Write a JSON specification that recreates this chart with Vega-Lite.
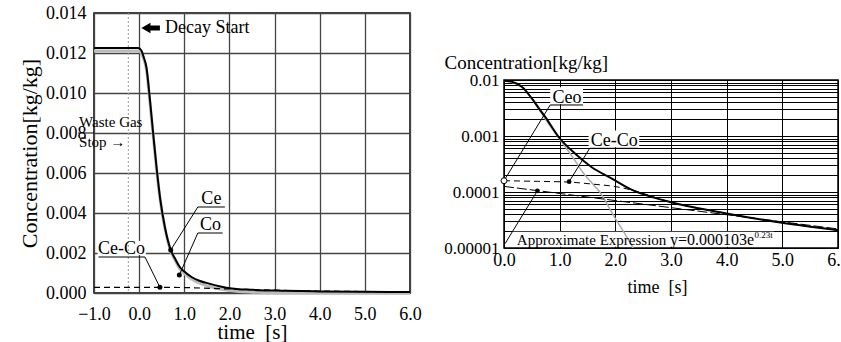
{
  "$schema": "https://vega.github.io/schema/vega-lite/v6.json",
  "background": "white",
  "padding": {"left": 17, "top": 3, "right": -4, "bottom": 0},
  "spacing": 21,
  "config": {
    "font": "Liberation Serif",
    "view": {"stroke": "black", "strokeWidth": 1.5},
    "axis": {"domain": false, "ticks": false, "labelColor": "black", "titleColor": "black", "labelFont": "Liberation Serif", "titleFont": "Liberation Serif", "titleFontWeight": "normal", "labelOverlap": false, "labelBound": false, "labelFlush": false, "tickCount": 40},
    "text": {"font": "Liberation Serif", "color": "black"}
  },
  "datasets": {
    "lCe": [
      {"t": -1.0, "v": 0.01225}, {"t": -0.02, "v": 0.01225}, {"t": 0.05, "v": 0.01212}, {"t": 0.1, "v": 0.0118},
      {"t": 0.16, "v": 0.0113}, {"t": 0.24, "v": 0.00965}, {"t": 0.31, "v": 0.008}, {"t": 0.385, "v": 0.0063},
      {"t": 0.47, "v": 0.00465}, {"t": 0.57, "v": 0.0033}, {"t": 0.7, "v": 0.00215}, {"t": 0.8, "v": 0.0017},
      {"t": 0.9, "v": 0.0013}, {"t": 1.0, "v": 0.00107}, {"t": 1.16, "v": 0.0008}, {"t": 1.35, "v": 0.0006},
      {"t": 1.53, "v": 0.00048}, {"t": 1.8, "v": 0.00033}, {"t": 2.05, "v": 0.00023}, {"t": 2.5, "v": 0.00016},
      {"t": 3.0, "v": 0.00012}, {"t": 4.0, "v": 0.00008}, {"t": 5.0, "v": 0.00006}, {"t": 6.0, "v": 0.00005}
    ],
    "lCo": [
      {"t": -1.0, "v": 0.0121}, {"t": -0.02, "v": 0.0121}, {"t": 0.05, "v": 0.012}, {"t": 0.1, "v": 0.0117},
      {"t": 0.16, "v": 0.0112}, {"t": 0.24, "v": 0.0095}, {"t": 0.31, "v": 0.0079}, {"t": 0.385, "v": 0.0062},
      {"t": 0.47, "v": 0.0046}, {"t": 0.57, "v": 0.00325}, {"t": 0.7, "v": 0.0021}, {"t": 0.8, "v": 0.00163},
      {"t": 0.9, "v": 0.00122}, {"t": 1.0, "v": 0.00098}, {"t": 1.16, "v": 0.0007}, {"t": 1.35, "v": 0.00048},
      {"t": 1.53, "v": 0.00035}, {"t": 1.8, "v": 0.0002}, {"t": 2.05, "v": 0.00011}, {"t": 2.5, "v": 0.00004},
      {"t": 3.0, "v": 0.00001}, {"t": 6.0, "v": 0.0}
    ],
    "lCeCo": [
      {"t": -1.0, "v": 0.000285}, {"t": 0.5, "v": 0.000285}, {"t": 1.2, "v": 0.00026}, {"t": 2.0, "v": 0.0002},
      {"t": 3.0, "v": 0.00014}, {"t": 4.0, "v": 0.0001}, {"t": 5.0, "v": 0.00007}, {"t": 6.0, "v": 0.00005}
    ],
    "lSeg": [
      {"t1": 1.3, "v1": 0.0043, "t2": 1.9, "v2": 0.0043},
      {"t1": 1.3, "v1": 0.0043, "t2": 0.7, "v2": 0.00215},
      {"t1": 1.3, "v1": 0.003, "t2": 1.85, "v2": 0.003},
      {"t1": 1.3, "v1": 0.003, "t2": 0.89, "v2": 0.0009},
      {"t1": -0.9, "v1": 0.0018, "t2": 0.13, "v2": 0.0018},
      {"t1": 0.13, "v1": 0.0018, "t2": 0.46, "v2": 0.000285},
      {"t1": -1.35, "v1": 0.008, "t2": -1.0, "v2": 0.008}
    ],
    "lDot": [{"t": 0.7, "v": 0.00215}, {"t": 0.89, "v": 0.0009}, {"t": 0.46, "v": 0.000285}],
    "lLabel": [
      {"t": 1.6, "v": 0.0043, "label": "Ce"},
      {"t": 1.58, "v": 0.003, "label": "Co"},
      {"t": -0.39, "v": 0.0018, "label": "Ce-Co"}
    ],
    "lBox": [{"t1": -0.92, "t2": 0.15, "v1": 0.0019, "v2": 0.0026}],
    "lWaste": [
      {"t": -1.33, "v": 0.00855, "label": "Waste Gas"},
      {"t": -1.33, "v": 0.00755, "label": "Stop  →"}
    ],
    "lStop": [{"t": -0.24}],
    "lDecay": [{"t": 0.574, "v": 0.01325, "label": "Decay Start"}],
    "lArrowHead": [{"t": 0.15, "v": 0.01325}],
    "lArrowBody": [{"t1": 0.2, "t2": 0.46, "v": 0.01325}],
    "rCe": [
      {"t": 0.0, "v": 0.0097}, {"t": 0.14, "v": 0.0093}, {"t": 0.32, "v": 0.0076}, {"t": 0.5, "v": 0.0047},
      {"t": 0.65, "v": 0.0029}, {"t": 0.74, "v": 0.0022}, {"t": 0.975, "v": 0.00098}, {"t": 1.27, "v": 0.00049},
      {"t": 1.57, "v": 0.00028}, {"t": 1.93, "v": 0.000175}, {"t": 2.29, "v": 0.00011}, {"t": 2.95, "v": 0.0000676},
      {"t": 3.97, "v": 0.0000418}, {"t": 4.99, "v": 0.0000283}, {"t": 6.0, "v": 0.0000208}
    ],
    "rCo": [
      {"t": 0.0, "v": 0.0097}, {"t": 0.32, "v": 0.0076}, {"t": 0.5, "v": 0.0046}, {"t": 0.68, "v": 0.0025},
      {"t": 0.85, "v": 0.0014}, {"t": 1.0, "v": 0.00088}, {"t": 1.15, "v": 0.00055}, {"t": 1.27, "v": 0.00037},
      {"t": 1.42, "v": 0.00022}, {"t": 1.54, "v": 0.00016}, {"t": 1.72, "v": 0.0001}, {"t": 1.99, "v": 0.000035},
      {"t": 2.2, "v": 0.000016}, {"t": 2.32, "v": 0.00001}
    ],
    "rCeCo": [
      {"t": 0.0, "v": 0.000159}, {"t": 0.6, "v": 0.000155}, {"t": 1.18, "v": 0.00015}, {"t": 1.6, "v": 0.000138},
      {"t": 2.0, "v": 0.000125}, {"t": 2.3, "v": 0.000108}, {"t": 2.95, "v": 0.0000676}, {"t": 3.97, "v": 0.0000418},
      {"t": 4.99, "v": 0.0000283}, {"t": 6.0, "v": 0.0000208}
    ],
    "rApprox": [{"t": 0.0, "v": 0.000126}, {"t": 6.0, "v": 0.0000219}],
    "rSeg": [
      {"t1": 0.83, "v1": 0.00358, "t2": 1.42, "v2": 0.00358},
      {"t1": 0.83, "v1": 0.00358, "t2": 0.0, "v2": 0.000159},
      {"t1": 1.54, "v1": 0.000603, "t2": 2.41, "v2": 0.000603},
      {"t1": 1.54, "v1": 0.000603, "t2": 1.17, "v2": 0.000153},
      {"t1": 0.02, "v1": 0.000012, "t2": 0.6, "v2": 0.000105}
    ],
    "rDot": [{"t": 1.17, "v": 0.000153}, {"t": 0.6, "v": 0.000105}],
    "rOpen": [{"t": 0.0, "v": 0.000159}],
    "rBox": [
      {"t1": 0.83, "t2": 1.42, "v1": 0.0037, "v2": 0.0074},
      {"t1": 1.52, "t2": 2.43, "v1": 0.00063, "v2": 0.00125},
      {"t1": 0.15, "t2": 4.85, "v1": 0.0000105, "v2": 0.0000195}
    ],
    "rLabel": [
      {"t": 1.13, "v": 0.00385, "label": "Ceo"},
      {"t": 1.98, "v": 0.00066, "label": "Ce-Co"}
    ],
    "rApproxText": [{"t": 0.23, "v": 0.0000139, "label": "Approximate Expression"}],
    "rFormula": [{"t": 2.98, "v": 0.0000139, "label": "y=0.000103e"}],
    "rSup": [{"t": 4.5, "v": 0.0000172, "label": "0.23t"}]
  },
  "hconcat": [
    {
      "width": 316,
      "height": 280,
      "layer": [
        {
          "data": {"name": "lBox"},
          "mark": {"type": "rect", "color": "white"},
          "encoding": {
            "x": {"field": "t1", "type": "quantitative", "scale": {"domain": [-1, 6], "nice": false, "zero": false},
              "axis": {"title": "time\u00a0\u00a0[s]", "values": [-1, 0, 1, 2, 3, 4, 5, 6], "tickCount": 40, "format": ".1f", "labelFontSize": 18, "labelPadding": 12, "labelFlush": false, "labelOverlap": false, "titleFontSize": 21, "titlePadding": -2, "grid": true, "gridColor": "#444", "gridWidth": 1.3}},
            "x2": {"field": "t2"},
            "y": {"field": "v1", "type": "quantitative", "scale": {"domain": [0, 0.014], "nice": false, "zero": false},
              "axis": {"title": "Concentration[kg/kg]", "values": [0, 0.002, 0.004, 0.006, 0.008, 0.01, 0.012, 0.014], "tickCount": 40, "format": ".3f", "labelFontSize": 18, "labelPadding": 8, "labelFlush": false, "labelOverlap": false, "titleFontSize": 22, "titlePadding": 4, "grid": true, "gridColor": "#444", "gridWidth": 1.3}},
            "y2": {"field": "v2"}
          }
        },
        {
          "data": {"name": "lStop"},
          "mark": {"type": "rule", "color": "#999", "strokeDash": [2, 2], "strokeWidth": 1},
          "encoding": {"x": {"field": "t", "type": "quantitative"}}
        },
        {
          "data": {"name": "lCo"},
          "mark": {"type": "line", "color": "#bbb", "strokeWidth": 3, "interpolate": "monotone"},
          "encoding": {"x": {"field": "t", "type": "quantitative"}, "y": {"field": "v", "type": "quantitative"}}
        },
        {
          "data": {"name": "lCe"},
          "mark": {"type": "line", "color": "black", "strokeWidth": 2, "interpolate": "monotone"},
          "encoding": {"x": {"field": "t", "type": "quantitative"}, "y": {"field": "v", "type": "quantitative"}}
        },
        {
          "data": {"name": "lCeCo"},
          "mark": {"type": "line", "color": "black", "strokeWidth": 1.2, "strokeDash": [6, 4], "interpolate": "monotone"},
          "encoding": {"x": {"field": "t", "type": "quantitative"}, "y": {"field": "v", "type": "quantitative"}}
        },
        {
          "data": {"name": "lSeg"},
          "mark": {"type": "rule", "color": "black", "strokeWidth": 1},
          "encoding": {"x": {"field": "t1", "type": "quantitative"}, "x2": {"field": "t2"}, "y": {"field": "v1", "type": "quantitative"}, "y2": {"field": "v2"}}
        },
        {
          "data": {"name": "lDot"},
          "mark": {"type": "circle", "color": "black", "size": 25, "opacity": 1},
          "encoding": {"x": {"field": "t", "type": "quantitative"}, "y": {"field": "v", "type": "quantitative"}}
        },
        {
          "data": {"name": "lLabel"},
          "mark": {"type": "text", "fontSize": 18, "align": "center", "baseline": "alphabetic", "dy": -3},
          "encoding": {"x": {"field": "t", "type": "quantitative"}, "y": {"field": "v", "type": "quantitative"}, "text": {"field": "label"}}
        },
        {
          "data": {"name": "lWaste"},
          "mark": {"type": "text", "fontSize": 15, "align": "left", "baseline": "middle"},
          "encoding": {"x": {"field": "t", "type": "quantitative"}, "y": {"field": "v", "type": "quantitative"}, "text": {"field": "label"}}
        },
        {
          "data": {"name": "lDecay"},
          "mark": {"type": "text", "fontSize": 18, "align": "left", "baseline": "middle"},
          "encoding": {"x": {"field": "t", "type": "quantitative"}, "y": {"field": "v", "type": "quantitative"}, "text": {"field": "label"}}
        },
        {
          "data": {"name": "lArrowHead"},
          "mark": {"type": "point", "shape": "triangle-left", "filled": true, "color": "black", "size": 110, "opacity": 1},
          "encoding": {"x": {"field": "t", "type": "quantitative"}, "y": {"field": "v", "type": "quantitative"}}
        },
        {
          "data": {"name": "lArrowBody"},
          "mark": {"type": "rule", "color": "black", "strokeWidth": 5},
          "encoding": {"x": {"field": "t1", "type": "quantitative"}, "x2": {"field": "t2"}, "y": {"field": "v", "type": "quantitative"}}
        }
      ]
    },
    {
      "spacing": 0,
      "vconcat": [
        {
          "width": 334,
          "height": 39,
          "view": {"stroke": null},
          "data": {"values": [{}]},
          "mark": {"type": "point", "opacity": 0},
          "encoding": {}
        },
        {
          "width": 334,
          "height": 168,
          "layer": [
            {
              "data": {"name": "rBox"},
              "mark": {"type": "rect", "color": "white"},
              "encoding": {
                "x": {"field": "t1", "type": "quantitative", "scale": {"domain": [0, 6], "nice": false, "zero": false},
                  "axis": {"title": "time\u00a0\u00a0[s]", "values": [0, 1, 2, 3, 4, 5, 6], "tickCount": 40, "format": ".1f", "labelFontSize": 18, "labelPadding": 3, "labelFlush": false, "labelOverlap": false, "titleFontSize": 18, "titlePadding": 9, "titleX": 153, "grid": true, "gridColor": "black", "gridWidth": 1}},
                "x2": {"field": "t2"},
                "y": {"field": "v1", "type": "quantitative", "scale": {"type": "log", "domain": [0.00001, 0.01], "nice": false},
                  "axis": {"title": "Concentration[kg/kg]", "titleAngle": 0, "titleAlign": "left", "titleBaseline": "middle", "titleX": -60, "titleY": -18, "titleFontSize": 19,
                    "values": [0.00001, 0.00002, 0.00003, 0.00004, 0.00005, 0.00006, 0.00007, 0.00008, 0.00009, 0.0001, 0.0002, 0.0003, 0.0004, 0.0005, 0.0006, 0.0007, 0.0008, 0.0009, 0.001, 0.002, 0.003, 0.004, 0.005, 0.006, 0.007, 0.008, 0.009, 0.01],
                    "tickCount": 40,
                    "labelExpr": "indexof([0.01, 0.001, 0.0001, 0.00001], datum.value) >= 0 ? format(datum.value, '.5~f') : ''",
                    "labelFontSize": 17, "labelPadding": 5, "labelFlush": false, "labelOverlap": false, "grid": true, "gridColor": "black", "gridWidth": 1}},
                "y2": {"field": "v2"}
              }
            },
            {
              "data": {"name": "rCo"},
              "mark": {"type": "line", "color": "#aaa", "strokeWidth": 1.5, "interpolate": "monotone", "clip": true},
              "encoding": {"x": {"field": "t", "type": "quantitative"}, "y": {"field": "v", "type": "quantitative", "scale": {"type": "log"}}}
            },
            {
              "data": {"name": "rCe"},
              "mark": {"type": "line", "color": "black", "strokeWidth": 2, "interpolate": "monotone"},
              "encoding": {"x": {"field": "t", "type": "quantitative"}, "y": {"field": "v", "type": "quantitative", "scale": {"type": "log"}}}
            },
            {
              "data": {"name": "rCeCo"},
              "mark": {"type": "line", "color": "black", "strokeWidth": 1, "strokeDash": [6, 4], "interpolate": "monotone"},
              "encoding": {"x": {"field": "t", "type": "quantitative"}, "y": {"field": "v", "type": "quantitative", "scale": {"type": "log"}}}
            },
            {
              "data": {"name": "rApprox"},
              "mark": {"type": "line", "color": "black", "strokeWidth": 1, "strokeDash": [10, 3]},
              "encoding": {"x": {"field": "t", "type": "quantitative"}, "y": {"field": "v", "type": "quantitative", "scale": {"type": "log"}}}
            },
            {
              "data": {"name": "rSeg"},
              "mark": {"type": "rule", "color": "black", "strokeWidth": 1},
              "encoding": {"x": {"field": "t1", "type": "quantitative"}, "x2": {"field": "t2"}, "y": {"field": "v1", "type": "quantitative", "scale": {"type": "log"}}, "y2": {"field": "v2"}}
            },
            {
              "data": {"name": "rDot"},
              "mark": {"type": "circle", "color": "black", "size": 22, "opacity": 1},
              "encoding": {"x": {"field": "t", "type": "quantitative"}, "y": {"field": "v", "type": "quantitative", "scale": {"type": "log"}}}
            },
            {
              "data": {"name": "rOpen"},
              "mark": {"type": "point", "shape": "circle", "filled": false, "color": "black", "fill": "white", "fillOpacity": 1, "strokeWidth": 1, "size": 35, "opacity": 1},
              "encoding": {"x": {"field": "t", "type": "quantitative"}, "y": {"field": "v", "type": "quantitative", "scale": {"type": "log"}}}
            },
            {
              "data": {"name": "rLabel"},
              "mark": {"type": "text", "fontSize": 18, "align": "center", "baseline": "alphabetic"},
              "encoding": {"x": {"field": "t", "type": "quantitative"}, "y": {"field": "v", "type": "quantitative", "scale": {"type": "log"}}, "text": {"field": "label"}}
            },
            {
              "data": {"name": "rApproxText"},
              "mark": {"type": "text", "fontSize": 15, "align": "left", "baseline": "middle"},
              "encoding": {"x": {"field": "t", "type": "quantitative"}, "y": {"field": "v", "type": "quantitative", "scale": {"type": "log"}}, "text": {"field": "label"}}
            },
            {
              "data": {"name": "rFormula"},
              "mark": {"type": "text", "fontSize": 16, "align": "left", "baseline": "middle"},
              "encoding": {"x": {"field": "t", "type": "quantitative"}, "y": {"field": "v", "type": "quantitative", "scale": {"type": "log"}}, "text": {"field": "label"}}
            },
            {
              "data": {"name": "rSup"},
              "mark": {"type": "text", "fontSize": 9, "align": "left", "baseline": "middle"},
              "encoding": {"x": {"field": "t", "type": "quantitative"}, "y": {"field": "v", "type": "quantitative", "scale": {"type": "log"}}, "text": {"field": "label"}}
            }
          ]
        }
      ]
    }
  ]
}
